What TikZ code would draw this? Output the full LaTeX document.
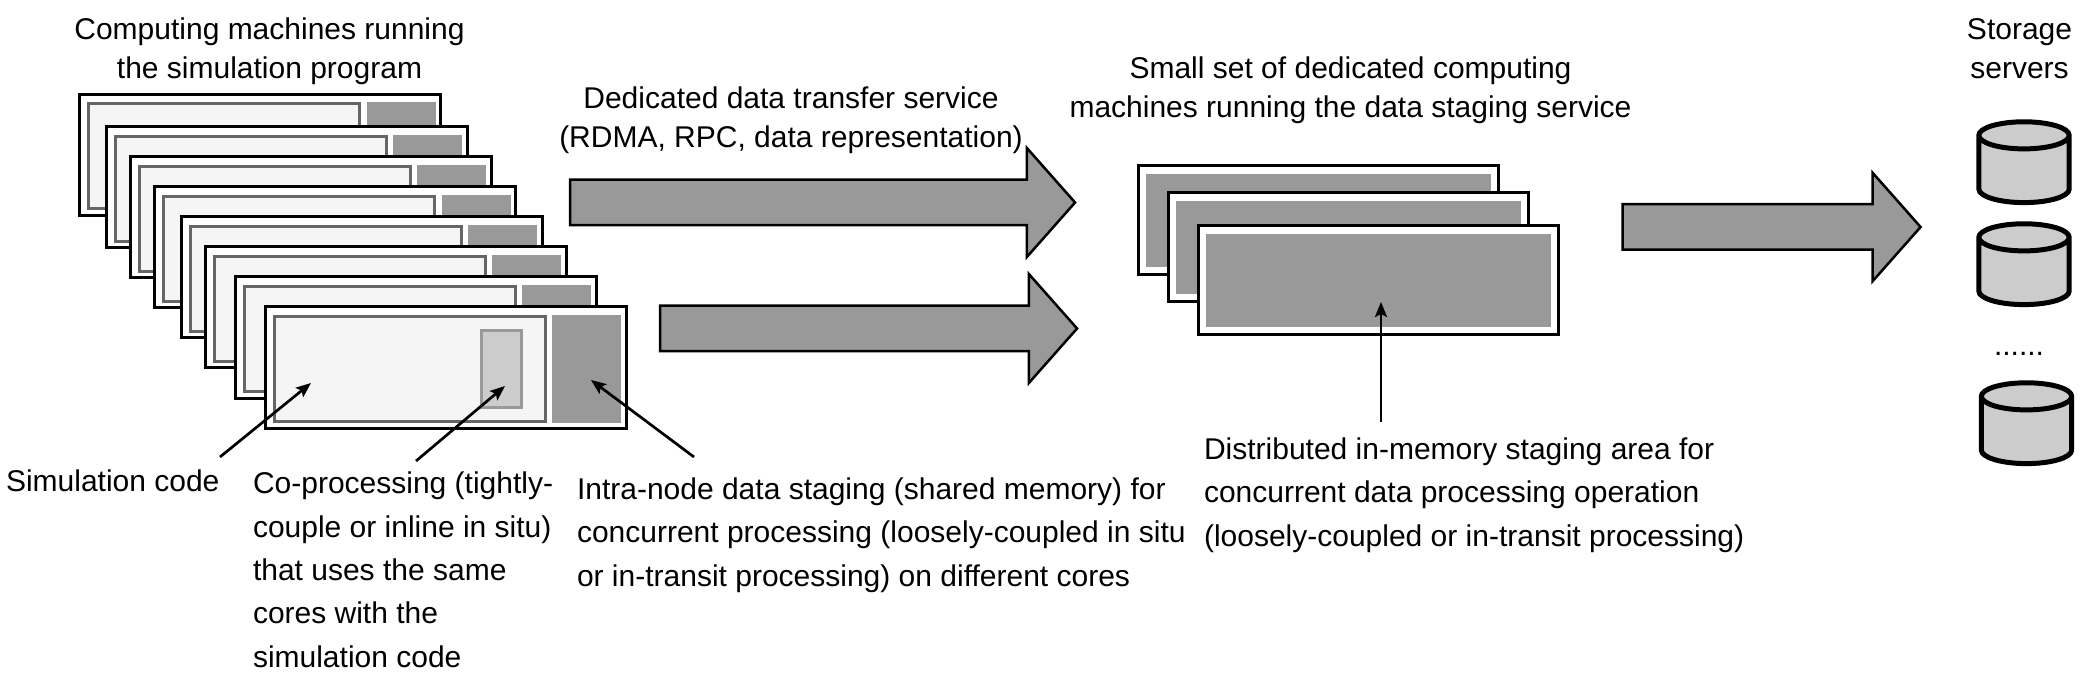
\documentclass[tikz,border=0pt]{standalone}
\usepackage{fontspec}
\setmainfont{Liberation Sans}
\usetikzlibrary{shapes.geometric,shapes.arrows,arrows.meta}
\definecolor{codefill}{HTML}{F5F5F5}
\definecolor{codeline}{HTML}{666666}
\definecolor{darkfill}{HTML}{999999}
\definecolor{lightfill}{HTML}{CCCCCC}

\begin{document}
\begin{tikzpicture}[x=0.5pt,y=-0.5pt,
every node/.style={inner sep=0pt,outer sep=0pt,font=\fontsize{15}{19.5}\selectfont},
machine/.style={shape=rectangle,minimum width=180.5pt,minimum height=60.5pt,draw=black,line width=1.5pt,fill=white},
codebox/.style={shape=rectangle,minimum width=135.5pt,minimum height=52.5pt,draw=codeline,line width=1.5pt,fill=codefill},
stagebox/.style={shape=rectangle,minimum width=34.5pt,minimum height=54pt,fill=darkfill},
server/.style={shape=rectangle,minimum width=180pt,minimum height=54.5pt,draw=black,line width=1.5pt,fill=white},
serverfill/.style={shape=rectangle,minimum width=172.5pt,minimum height=46.5pt,fill=darkfill},
bigarrow/.style={shape=single arrow,inner ysep=10.75pt,single arrow head extend=15.8pt,single arrow tip angle=97,draw=black,line width=1.25pt,fill=darkfill},
disk/.style={shape=cylinder,shape border rotate=90,inner xsep=22.6pt,inner ysep=12.8pt,aspect=0.30,draw=black,line width=2.5pt,fill=lightfill},
title/.style={align=center},
note/.style={anchor=north west,align=left,font=\fontsize{15}{21.7}\selectfont},
pointer/.style={-{Stealth[length=7.5pt,width=6pt,inset=1.5pt]},line width=1.35pt}]
\useasboundingbox (0,0) rectangle (2097,678);

% simulation machines
\path (260,155) node (M1) [machine] {};
\path (224,156.5) node (M1c) [codebox] {};
\path (401,156.5) node (M1s) [stagebox] {};
\path (286.5,187.5) node (M2) [machine] {};
\path (250.5,189) node (M2c) [codebox] {};
\path (427.5,189) node (M2s) [stagebox] {};
\path (310.5,217.5) node (M3) [machine] {};
\path (274.5,219) node (M3c) [codebox] {};
\path (451.5,219) node (M3s) [stagebox] {};
\path (335,247.5) node (M4) [machine] {};
\path (299,249) node (M4c) [codebox] {};
\path (476,249) node (M4s) [stagebox] {};
\path (361.5,277.5) node (M5) [machine] {};
\path (325.5,279) node (M5c) [codebox] {};
\path (502.5,279) node (M5s) [stagebox] {};
\path (385.5,307.5) node (M6) [machine] {};
\path (349.5,309) node (M6c) [codebox] {};
\path (526.5,309) node (M6s) [stagebox] {};
\path (415.5,337.5) node (M7) [machine] {};
\path (379.5,339) node (M7c) [codebox] {};
\path (556.5,339) node (M7s) [stagebox] {};
\path (445.5,367.5) node (M8) [machine] {};
\path (409.5,369) node (M8c) [codebox] {};
\path (586.5,369) node (M8s) [stagebox] {};
\path (501,369) node (M8t) [shape=rectangle,minimum width=20pt,minimum height=38pt,draw=darkfill,line width=1.5pt,fill=lightfill] {};

% staging servers
\path (1318,220.5) node (S1) [server] {};
\path (1318,221) node (S1f) [serverfill] {};
\path (1348,247.5) node (S2) [server] {};
\path (1348,248) node (S2f) [serverfill] {};
\path (1378.5,280.5) node (S3) [server] {};
\path (1378.5,281) node (S3f) [serverfill] {};

% block arrows
\path (812.5,202.5) node (A1) [bigarrow,minimum height=252.5pt] {};
\path (858.5,328.5) node (A2) [bigarrow,minimum height=208.5pt] {};
\path (1761.5,227) node (A3) [bigarrow,minimum height=149pt] {};

% storage
\path (2024,177) node (D1) [disk] {};
\path (2024,279) node (D2) [disk] {};
\path (2026.5,438) node (D3) [disk] {};
\path (2019,354) node (dots) {......};

% titles
\path (269.5,51) node (tMachines) [title] {Computing machines running\\the simulation program};
\path (791,120.5) node (tTransfer) [title] {Dedicated data transfer service\\(RDMA, RPC, data representation)};
\path (1350.5,90) node (tStaging) [title] {Small set of dedicated computing\\machines running the data staging service};
\path (2019.5,49) node (tStorage) [title] {Storage\\servers};

% labels
\path (6,491) node (lSim) [anchor=base west] {Simulation code};
\path (253,472) node (lCo) [note] {Co-processing (tightly-\\couple or inline in situ)\\that uses the same\\cores with the\\simulation code};
\path (577,477.5) node (lIntra) [note] {Intra-node data staging (shared memory) for\\concurrent processing (loosely-coupled in situ\\or in-transit processing) on different cores};
\path (1204,437.5) node (lDist) [note] {Distributed in-memory staging area for\\concurrent data processing operation\\(loosely-coupled or in-transit processing)};

\coordinate (pSim) at (220,457);
\coordinate (qSim) at (311,383);
\coordinate (pCo) at (416,461);
\coordinate (qCo) at (505,386);
\coordinate (pIntra) at (694,457);
\coordinate (qIntra) at (591,380);
\coordinate (pDist) at (1381,422);
\coordinate (qDist) at (1381,302);
\draw[pointer] (pSim) -- (qSim);
\draw[pointer] (pCo) -- (qCo);
\draw[pointer] (pIntra) -- (qIntra);
\draw[pointer] (pDist) -- (qDist);

\end{tikzpicture}
\end{document}
